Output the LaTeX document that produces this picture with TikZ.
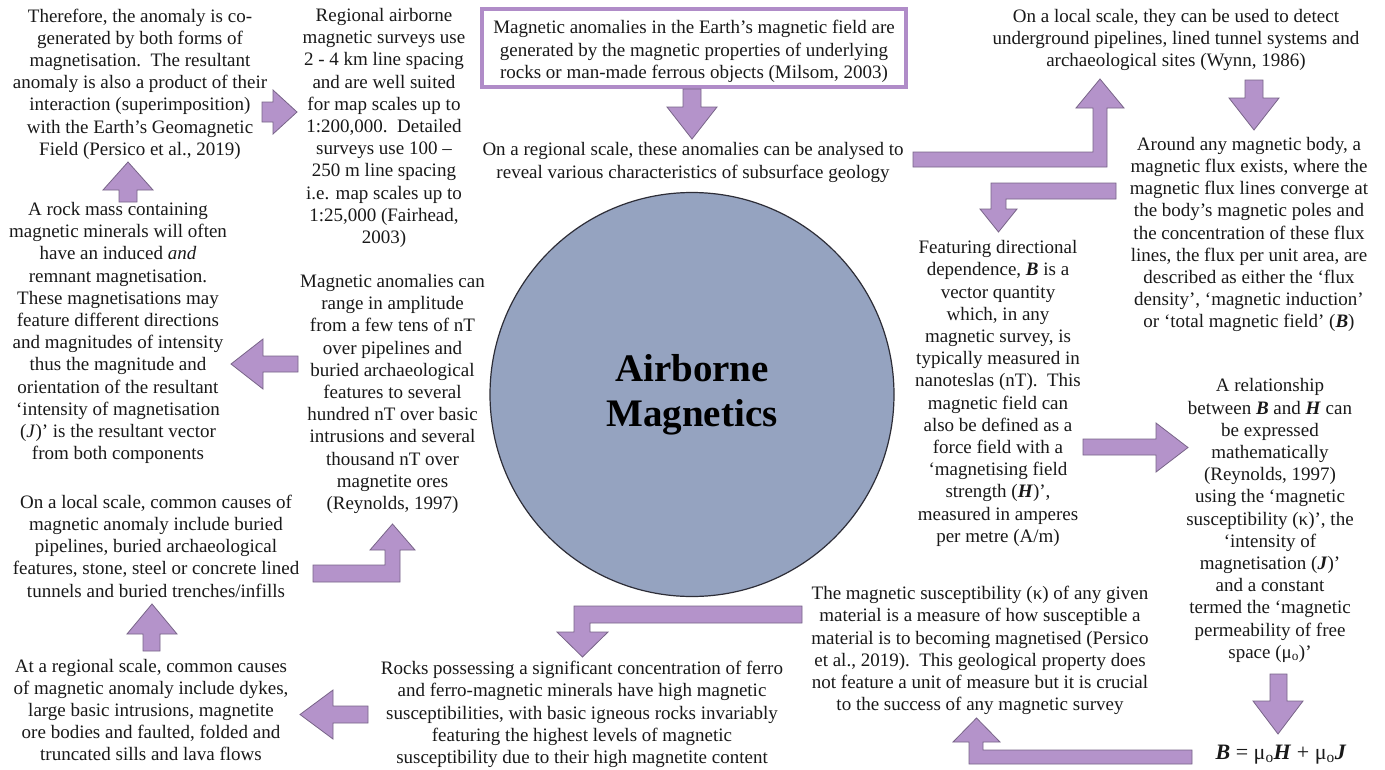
\documentclass[tikz,border=0pt]{standalone}
\usepackage{fontspec}
\setmainfont{Liberation Serif}
\definecolor{arrowfill}{RGB}{180,147,202}
\definecolor{arrowline}{RGB}{120,100,136}
\definecolor{boxline}{RGB}{176,140,200}
\definecolor{discfill}{RGB}{149,163,192}
\definecolor{discline}{RGB}{45,45,55}
\definecolor{ink}{RGB}{25,25,25}
\newcommand{\vB}{\textbf{\textit{B}}}
\newcommand{\vH}{\textbf{\textit{H}}}
\newcommand{\vJ}{\textbf{\textit{J}}}
\newcommand{\muo}{μ\textsubscript{o}}
\tikzset{
  txt/.style={align=center, inner sep=0pt, text=ink, font=\fontsize{19}{22.2}\selectfont},
  blockarrow/.style={fill=arrowfill, draw=arrowline, line width=0.8pt, line join=miter},
}
\begin{document}
\begin{tikzpicture}[x=1pt, y=-1pt]
\useasboundingbox[fill=white] (0,0) rectangle (1385,769);

% central disc
\node[circle, fill=discfill, draw=discline, line width=1.2pt, minimum size=404pt, inner sep=0pt,
      align=center, font=\fontsize{39}{45}\selectfont\bfseries, text=black] (core) at (692,394.5)
  {Airborne\\Magnetics};

% framed starting statement
\node[draw=boxline, line width=3.5pt, minimum width=424pt, minimum height=78pt, inner sep=0pt] (origin) at (694,48) {};
\node[txt, yshift=-3.5pt] (origintext) at (origin.center)
  {Magnetic anomalies in the Earth’s magnetic field are\\generated by the magnetic properties of underlying\\rocks or man-made ferrous objects (Milsom, 2003)};

\node[txt] (regional) at (693,162.5)
  {On a regional scale, these anomalies can be analysed to\\reveal various characteristics of subsurface geology};

\node[txt] (local) at (1176,40)
  {On a local scale, they can be used to detect\\underground pipelines, lined tunnel systems and\\archaeological sites (Wynn, 1986)};

\node[txt] (flux) at (1249,234.5)
  {Around any magnetic body, a\\magnetic flux exists, where the\\magnetic flux lines converge at\\the body’s magnetic poles and\\the concentration of these flux\\lines, the flux per unit area, are\\described as either the ‘flux\\density’, ‘magnetic induction’\\or ‘total magnetic field’ (\vB)};

\node[txt] (vector) at (998,393.5)
  {Featuring directional\\dependence, \vB{} is a\\vector quantity\\which, in any\\magnetic survey, is\\typically measured in\\nanoteslas (nT).\ \ This\\magnetic field can\\also be defined as a\\force field with a\\‘magnetising field\\strength (\vH)’,\\measured in amperes\\per metre (A/m)};

\node[txt] (relation) at (1270,520.5)
  {A relationship\\between \vB{} and \vH{} can\\be expressed\\mathematically\\(Reynolds, 1997)\\using the ‘magnetic\\susceptibility (κ)’, the\\‘intensity of\\magnetisation (\vJ)’\\and a constant\\termed the ‘magnetic\\permeability of free\\space (\muo)’};

\node[txt, font=\fontsize{22}{26}\selectfont] (formula) at (1281,755)
  {\vB{} = \muo\vH{} + \muo\vJ};

\node[txt] (suscept) at (980,650.5)
  {The magnetic susceptibility (κ) of any given\\material is a measure of how susceptible a\\material is to becoming magnetised (Persico\\et al., 2019).\ \ This geological property does\\not feature a unit of measure but it is crucial\\to the success of any magnetic survey};

\node[txt] (rocks) at (582,714.5)
  {Rocks possessing a significant concentration of ferro\\and ferro-magnetic minerals have high magnetic\\susceptibilities, with basic igneous rocks invariably\\featuring the highest levels of magnetic\\susceptibility due to their high magnetite content};

\node[txt] (causesreg) at (151,710)
  {At a regional scale, common causes\\of magnetic anomaly include dykes,\\large basic intrusions, magnetite\\ore bodies and faulted, folded and\\truncated sills and lava flows};

\node[txt] (causesloc) at (156,546)
  {On a local scale, common causes of\\magnetic anomaly include buried\\pipelines, buried archaeological\\features, stone, steel or concrete lined\\tunnels and buried trenches/infills};

\node[txt] (amplitude) at (392.5,394)
  {Magnetic anomalies can\\range in amplitude\\from a few tens of nT\\over pipelines and\\buried archaeological\\features to several\\hundred nT over basic\\intrusions and several\\thousand nT over\\magnetite ores\\(Reynolds, 1997)};

\node[txt] (rockmass) at (118,333)
  {A rock mass containing\\magnetic minerals will often\\have an induced \textit{and}\\remnant magnetisation.\\These magnetisations may\\feature different directions\\and magnitudes of intensity\\thus the magnitude and\\orientation of the resultant\\‘intensity of magnetisation\\(\textit{J})’ is the resultant vector\\from both components};

\node[txt] (cogen) at (140,84)
  {Therefore, the anomaly is co-\\generated by both forms of\\magnetisation.\ \ The resultant\\anomaly is also a product of their\\interaction (superimposition)\\with the Earth’s Geomagnetic\\Field (Persico et al., 2019)};

\node[txt] (surveys) at (384,128)
  {Regional airborne\\magnetic surveys use\\2 - 4 km line spacing\\and are well suited\\for map scales up to\\1:200,000.\ \ Detailed\\surveys use 100 –\\250 m line spacing\\i.e. map scales up to\\1:25,000 (Fairhead,\\2003)};

% block arrows
% origin -> regional
\draw[blockarrow] (683,89) -- (701,89) -- (701,107) -- (717,107) -- (692,139) -- (667,107) -- (683,107) -- cycle;
% regional -> local
\draw[blockarrow] (913,152) -- (1093,152) -- (1093,108) -- (1076,108) -- (1100,79) -- (1124,108) -- (1107,108) -- (1107,167) -- (913,167) -- cycle;
% local -> flux
\draw[blockarrow] (1245,80) -- (1263,80) -- (1263,98) -- (1279,98) -- (1254,130) -- (1229,98) -- (1245,98) -- cycle;
% flux -> vector
\draw[blockarrow] (1116,183) -- (991,183) -- (991,209) -- (980,209) -- (998.5,232) -- (1017,209) -- (1006,209) -- (1006,199) -- (1116,199) -- cycle;
% vector -> relation
\draw[blockarrow] (1083,439) -- (1156,439) -- (1156,423) -- (1188,447.5) -- (1156,472) -- (1156,455) -- (1083,455) -- cycle;
% relation -> formula
\draw[blockarrow] (1270,674) -- (1287,674) -- (1287,701) -- (1303,701) -- (1278,734) -- (1253,701) -- (1270,701) -- cycle;
% formula -> suscept
\draw[blockarrow] (1192,750) -- (983,750) -- (983,742) -- (1000,742) -- (976.5,718) -- (953,742) -- (969,742) -- (969,764) -- (1192,764) -- cycle;
% suscept -> rocks
\draw[blockarrow] (802,606) -- (574,606) -- (574,632) -- (557,632) -- (582.5,657) -- (608,632) -- (590,632) -- (590,623) -- (802,623) -- cycle;
% rocks -> causesreg
\draw[blockarrow] (368,706) -- (333,706) -- (333,690) -- (300,714.5) -- (333,739) -- (333,723) -- (368,723) -- cycle;
% causesreg -> causesloc
\draw[blockarrow] (143,651) -- (143,634) -- (127,634) -- (152,604) -- (177,634) -- (160,634) -- (160,651) -- cycle;
% causesloc -> amplitude
\draw[blockarrow] (313,565) -- (385,565) -- (385,550) -- (370,550) -- (392.5,524) -- (415,550) -- (400,550) -- (400,582) -- (313,582) -- cycle;
% amplitude -> rockmass
\draw[blockarrow] (298,356) -- (263,356) -- (263,339) -- (231,364) -- (263,389) -- (263,372) -- (298,372) -- cycle;
% rockmass -> cogen
\draw[blockarrow] (119,202) -- (119,190) -- (103,190) -- (128,162) -- (153,190) -- (137,190) -- (137,202) -- cycle;
% cogen -> surveys
\draw[blockarrow] (262,102) -- (273,102) -- (273,90) -- (297,112) -- (273,134) -- (273,122) -- (262,122) -- cycle;
\end{tikzpicture}
\end{document}
